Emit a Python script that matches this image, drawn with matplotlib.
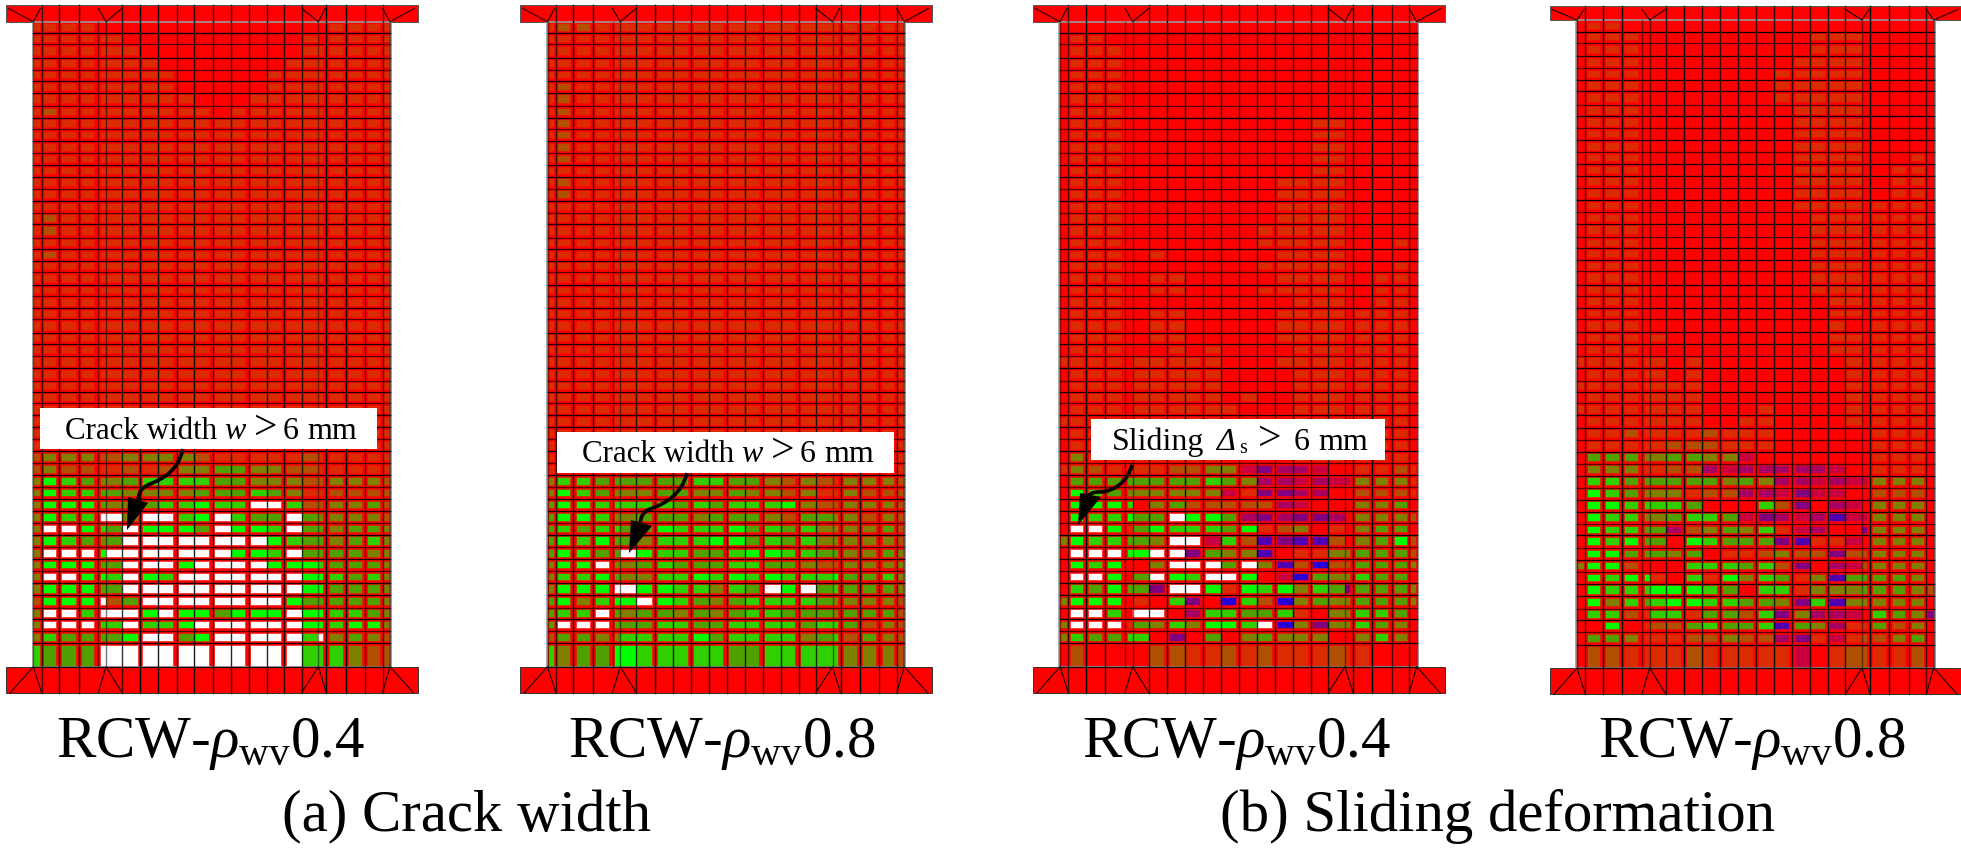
"""
Four FE wall meshes with crack width / sliding state per element.
"""

import matplotlib
matplotlib.use("Agg")
import matplotlib.pyplot as plt
from matplotlib.path import Path
from matplotlib.patches import PathPatch

plt.rcParams["font.family"] = ["Liberation Serif", "DejaVu Serif"]
plt.rcParams["mathtext.fontset"] = "custom"
plt.rcParams["mathtext.rm"] = "Liberation Serif"
plt.rcParams["mathtext.it"] = "Liberation Serif:italic"
plt.rcParams["mathtext.default"] = "regular"

# element state colours
STATE_COLORS = {
    "R": "#ff0000", "o": "#da2c00", "b": "#b05000", "y": "#808000",
    "g": "#50a000", "G": "#30d000", "L": "#00ff00", "W": "#ffffff",
    "p": "#800080", "n": "#a80060", "m": "#c80040", "v": "#5000b0",
    "u": "#2800d8",
}

ALL_O = "oooooooooooooooooooooo"
COL1B = "oboooooooooooooooooooo"

# one string per mesh row (top to bottom), one letter per column
crack_04 = [
    "ooooRRRRRRRRRRRRRRoooo", "ooooooRRRRRRRRRRoRoooo", "oooooooRRRRRRRRRoooooo",
    "ooooooooRRRRRRRooooooo", "oooooooooRRRRRoooooooo", "oooooooooRRRRRoooooooo",
    "ooooooooooRRRooooooooo", "oboooooooooRoooooooooo",
    ALL_O, ALL_O, ALL_O, ALL_O, ALL_O, ALL_O, ALL_O, ALL_O,
    COL1B, COL1B, ALL_O, COL1B, ALL_O, ALL_O, ALL_O, ALL_O, ALL_O, ALL_O,
    ALL_O, ALL_O, ALL_O, ALL_O, ALL_O, ALL_O, ALL_O, ALL_O, ALL_O, ALL_O,
    "byyybbyyyybooooobooooo", "bybboobobyyggyybbooooo", "yLGgyygGGGGggyyybbyyyb",
    "yLGGggyyyygggGgyoobbbb", "yLLLgyygGGLGGWWGbbyygb", "yLGGWWyWWGLWGggWgyyyyb",
    "yWWLGgWLLLgWLLGWggyggy", "yLGgygWWWWWWWWLGggygGy", "yWWWLWWWWWWWLLGWggggyy",
    "yLLLggWWWLWWWWLLLGgggy", "yWWLLGWLGWWWWWWWLLGgGy", "yLLLggWWWWWWWWWWLLgggy",
    "bLLLWbgWWWWWWWWLgggggy", "yWWGWWWLWLLgLLLWLLGGgy", "yWWWGGWGGLWWWWWWLLGLLy",
    "yGggggLWWgLWWWWWGWygyb", "GgggWWWWWWWWWWWWGGGybb",
]

crack_08 = [
    "obbooooooooooooooooooo", ALL_O, ALL_O, ALL_O, ALL_O, COL1B, COL1B, COL1B,
    COL1B, COL1B, COL1B, COL1B, ALL_O, COL1B, COL1B, ALL_O, ALL_O, ALL_O, ALL_O,
    ALL_O, ALL_O, ALL_O, ALL_O, ALL_O, ALL_O, ALL_O, ALL_O, ALL_O, ALL_O, ALL_O,
    ALL_O, ALL_O, ALL_O, ALL_O, ALL_O, ALL_O, ALL_O, ALL_O,
    "yGGggggggGGggybyboyyyb", "yLGgyyyggyygyybyooybbb", "gLLGGGGGgGgGGGLybbyyyb",
    "gLLGyygggygggybggyybyb", "gGgGGggLGGGLgGgGyyyygb", "gLGLggyGGGLLgGgGyyyyyb",
    "gLLggWLGGggGLLGGggyygy", "yLLWyygGgggGGggybbyyyy", "yGGLgyyGGLGLGLGGGLggGy",
    "yLLLWWLLGGyGgWLWgGgggy", "gLyGLLWLGgygGGGGgyyyyb", "gGGWgyggygygGGgggygggb",
    "gWWWgggGGggGGGGgGGgbyb", "bggyyGGGGLgGGGGygGbgyb", "GyggLLGGGGGggGGGGGyyyb",
]

sliding_04 = [
    "RRRRRRRRRRRRRRRRRRRRRR", "RooRRRRRRRRRRRRRRRRRRR", "RoooRRRRRRRRRRRRRRRRRR",
    "RoooRRRRRRRRRRRRRRRRRR", "RoooRRRRRRRRRRRRRRRRRR", "RoooRRRRRRRRRRRRRRRRRR",
    "RoooRRRRRRRRRRRRRRRRRR", "RoooRRRRRRRRRRRRRRRRRR", "RoooRRRRRRRRRRRooRRRRR",
    "RoooRRRRRRRRRRRooRRRRR", "RoooRRRRRRRRRRRooRRRRR", "RoooRRRRRRRRRRRooRRRRR",
    "RoooRRRRRRRRRRRooRRRRR", "RoooRRRRRRRRRooooRRRRR", "RoooRRRRRRRRRooooRRRRR",
    "RoooRRRRRRRRRooooRRRRR", "RoooRRRRRRRRRooooRRRRR", "RoooRRRRRRRRoooooRRRRR",
    "RoooRRRRRRRRoooooRRRoR", "RoooRRoRRRRRRooooRRRRR", "RoooRRRRRRRRoooooRRRoR",
    "RoooRRooRRRRRooooRRooR", "RoooRRooRRRRoooooRRooR", "RoooRRRRRRRRRRoooRRooR",
    "RoooRRooRRRRRooooRoooR", "RoooRRooRRRRRooooRoooR", "RoooRRooRRRRRooooRoooR",
    "RoooRRRoRoRRRRoooRoooR", "ooooRoooooRRRooooRoooR", "RoooRoooooRRRRoooRoooR",
    "RoooRoooooRRRRoooRoooR", "RoooRoooooRoRRoooRoooR", "RoooRooooooRRRoooRoooR",
    "ooooRoooooRRRRoooRoooR", "RoooRoooooRRRRoooRoooR", "RoooRoooooRRRRoooRoooR",
    "RyooRoooooRRRRoooRoooR",
    "oyboooobbyympnnmRRoobo", "RggggggggGgynnmnmmyyyo", "RLGgyyyyyymoppnnRRbbbo",
    "RLLLGRygbbbbbnmRRRyygR", "RLGGLggWLLgnpnppnRyyyb", "RWWLogLGGGgLobyRoRyggR",
    "yLGGggyWWmGbvpvvbRygLb", "RWWWLLWWpgyyvRooyygggb", "RLGLRRyWWWgWyvbubbgggy",
    "RWWLRgWLGWWLRmugyyGggR", "RGgLggpWWLoLGLyGgpgggy", "yLLLRoRGpRuGbuygyygggy",
    "RWWGRWWRnGGggGoRyyGGgR", "yWWWogyGyLLGWuypyyGgyR", "yGggGGRpRgRygyyyRRyGyR",
    "RbRRRRbboobobooobooRRR",
]

sliding_08 = [
    "RooRRRRRRRRRRRRRRRRRRR", "RoooRRRRRRRRRRoooRRRRR", "RoooRRRRRRRRRRoooRRRRR",
    "RoooRRRRRRRRRooooRRRRR", "RoooRRRRRRRRoooooRRRRR", "RoooRRRRRRRRoooooRRRRR",
    "RoooRRRRRRRRoooooRRRRR", "RoooRRRRRRRRRooooRRRRR", "RoooRRRRRRRRRooooRRRRR",
    "RoooRRRRRRRRRooooRRRRR", "RoooRRRRRRRRRooooRRRRR", "RoooRRRRRRRRRooooRRRoR",
    "RoooRRRRRRRRRooooRRooR", "RoooRRRRRRRRRooooRRooR", "RoooRRRRRRRRRooooRRooR",
    "RoooRRRRRRRRRooooRoooR", "RoooRRRRRRRRRRoooRoooR", "RoooRRRRRRRRRRoooRoooR",
    "RoooRRRRRRRRRRoooRoooR", "RoooRRRRRRRRRRoooRoooR", "RoooRRRRRRRRRRoooRoooR",
    "RoooRRRRRRRRRRoooRoooR", "RoooRRRRRRRRRRoooRoooR", "RoooRRRRRRRRRRRooRoooR",
    "RoooRRRRRRRRRRRooRoooR", "RoooRRRRRRRRRRRoRRoooR", "RoooRoRRRRRRRRRooRoooR",
    "RoooRRRRRRRRRRRooRoooR", "ooooooRoRRRRRRRRoRoooR", "RoooooRoRRRRRRRRoRoooR",
    "ooooooooRRRRRRRRoRoooR", "RoooooooRRRRRRRRoRoooR", "ooooooooRRRoRRRRoRoooR",
    "RoooooooRRooRRRRoRoooR",
    "RoobooooboooRRRRRRoooR", "RooooobbboooRRRRRRoooR", "RgggyyggyymRRRRRRRoooR",
    "RyyyoobbnmnnnnnmRRoooR", "RGGggggggygynnmnmmyyyR", "RLGgyyyobbnnmpmmRRbbbR",
    "RLLGGGGgRRRGbpRnmRyyyR", "RLGGyygGGgmpnmnvmmyyyR", "RLGGggnbygyGomnRRpyyyR",
    "RLGLggRLGgggpvoomRyyyR", "RLLgggygRoobybbpbbyyyR", "yLLbRRRGGGgGbpRnmbyyyR",
    "RLGLLoRGoLyGgoyvggggyR", "RLGGGLLLGgRGGoyyygggyb", "RLyGgGLLGGggypGvyyyyyR",
    "RGGboGGoggbGpynnmRGgyp", "RRLRobbgGggGvgynoogbyR", "RggyooobbybbnpomobbygR",
    "RbbooooboooomRobboobR"[:10] + "ooomRobb" + "oobR",
]

# mesh lines, relative to the web's top left corner
col_lines = [0, 8.3, 25.7, 45.3, 65, 72.7, 88.7, 107, 125, 143.3, 161, 179.3,
             197.3, 215.3, 233.3, 251, 268.3, 285, 293, 312.3, 331.7, 349.3, 356.7]
col_alpha = [0.4, 0.7, 1, 0.95, 0.5, 0.55, 0.8, 1, 0.9, 0.8, 0.9, 0.8,
             0.85, 0.8, 0.85, 0.85, 0.8, 0.45, 1, 1, 0.7, 0.7, 0.4]
row_lines = [0, 11.7, 22.7, 36, 48, 59.3, 71, 84.3, 96, 107.7, 119.3, 131.7, 143.3,
             155, 167, 179.3, 191, 202.6, 216, 227.3, 239, 250.3, 263.3, 274.3,
             286.6, 297.6, 311, 322.3, 334, 346.6, 359, 370, 381.6, 393.6, 405.6,
             417.6, 429.6, 441.6, 453.6, 465.6, 477.3, 489.3, 501.6, 513, 525.6,
             537.6, 549.3, 561, 573.6, 586, 597.6, 609.3, 621.6, 645]
row_alpha = [1, 0.65, 0.9, 0.65, 0.9, 0.9, 0.65]

# coloured part of each column (the rest of the element stays red)
patch_left = [1, 10.7, 29, 48.3, 67.7, 72.7, 88.7, 110, 125, 146, 161, 181.7,
              197.3, 217.7, 233.3, 253.3, 268.3, 285, 296.3, 315.7, 335, 350.7]
patch_right = [6.7, 22.7, 42.3, 61, 72.7, 88.7, 104.3, 125, 140, 161, 175.7, 197.3,
               211.7, 233.3, 247.7, 268.3, 285, 290, 309.3, 328.3, 346.7, 355.7]

# column lines that stop at the flanges
web_only_lines = [0, 4, 5, 17, 22]

# corner triangles in the flanges: apex, base left, base right
top_triangles = [((0, 0), (-25, -13.3), (7, -13.3)),
                 ((72.7, 0), (65, -13.3), (88.7, -13.3)),
                 ((285, 0), (268.3, -13.3), (292, -13.3)),
                 ((356.7, 0), (349.3, -13.3), (381, -13.3))]
bottom_triangles = [((0, 645), (-23, 671), (8.3, 671)),
                    ((72.7, 645), (65, 671), (88.7, 671)),
                    ((285, 645), (268.3, 671), (293, 671)),
                    ((356.7, 645), (349.3, 671), (380, 671))]


def draw_wall(ax, left, top, cells, yscale=1.0, flange=16.7):
    """One wall: flanges, web, coloured elements, mesh lines."""
    for row in cells:
        assert len(row) == 22, row
    assert len(cells) == 53

    def yy(v):
        return top + v * yscale

    web_h = yy(645) - top
    # flanges and web
    ax.bar(left - 27.3, flange, 412, top - flange, align="edge", color="#ff0000",
           edgecolor="#555555", linewidth=0.7, zorder=1)
    ax.bar(left - 27.3, 26.3, 412, yy(645), align="edge", color="#ff0000",
           edgecolor="#333333", linewidth=0.7, zorder=1)
    ax.bar(left - 0.8, web_h, 358.3, top, align="edge", color="#ff0000",
           edgecolor="#999999", linewidth=1.2, zorder=1)

    lefts, bottoms, widths, heights, colors = [], [], [], [], []
    for i, row in enumerate(cells):
        y0 = yy(row_lines[i]) + 2.7
        y1 = yy(row_lines[i + 1]) - (1 if i == 52 else 2.7)
        for j, state in enumerate(row):
            if state == "R":
                continue
            lefts.append(left + patch_left[j])
            widths.append(patch_right[j] - patch_left[j])
            bottoms.append(y0)
            heights.append(y1 - y0)
            colors.append(STATE_COLORS[state])

    # soft rim first, the scan is a bit blurred
    ax.bar([x - 1 for x in lefts], [h + 2 for h in heights], [w + 2 for w in widths],
           [y - 1 for y in bottoms], align="edge", color=colors, alpha=0.25,
           linewidth=0, zorder=2)
    ax.bar(lefts, heights, widths, bottoms, align="edge", color=colors,
           linewidth=0, zorder=3)

    # mesh
    for i, y in enumerate(row_lines[1:-1]):
        ax.plot([left, left + col_lines[-1]], [yy(y), yy(y)], color="black",
                alpha=row_alpha[i % len(row_alpha)], lw=0.95, zorder=4)
    ax.plot([left, left + col_lines[-1]], [yy(645), yy(645)], color="black",
            alpha=0.9, lw=0.95, zorder=4)
    for j, x in enumerate(col_lines):
        if j in web_only_lines:
            y0, y1 = top, yy(645)
        else:
            y0, y1 = top - flange, yy(645) + 26.3
        ax.plot([left + x, left + x], [y0, y1], color="black",
                alpha=col_alpha[j], lw=1.0, zorder=4)

    for apex, a, b in top_triangles:
        drop = flange - 3.4
        ax.plot([left + a[0], left + apex[0], left + b[0]],
                [top - drop, top, top - drop],
                color="black", alpha=0.85, lw=0.85, zorder=4)
    for apex, a, b in bottom_triangles:
        ax.plot([left + a[0], left + apex[0], left + b[0]],
                [yy(645) + 26, yy(645), yy(645) + 26],
                color="black", alpha=0.85, lw=0.85, zorder=4)


def draw_callout(ax, box, pieces, baseline, stem, head):
    """White label box with a curved black arrow under it."""
    x0, y0, x1, y1 = box
    ax.bar(x0, y1 - y0, x1 - x0, y0, align="edge", color="white", linewidth=0, zorder=5)
    for x, label, size, style, dy in pieces:
        ax.text(x, baseline + dy, label, fontsize=size, style=style, ha="left",
                va="baseline", color="black", zorder=7)
    codes = [Path.MOVETO, Path.CURVE4, Path.CURVE4, Path.CURVE4,
             Path.CURVE4, Path.CURVE4, Path.CURVE4]
    ax.add_patch(PathPatch(Path(stem, codes), facecolor="none", edgecolor="black",
                           lw=2.6, zorder=6))
    ax.fill([p[0] for p in head], [p[1] for p in head], color="black", lw=0, zorder=6)


def crack_label(x):
    return [(x, "Crack width", 22.3, "normal", 0), (x + 159, "w", 23, "italic", 0),
            (x + 189, ">", 30, "normal", 0), (x + 218, "6", 23, "normal", 0),
            (x + 242, "mm", 23, "normal", 0)]


fig = plt.figure(figsize=(19.61, 8.49), dpi=100)
ax = fig.add_axes([0, 0, 1, 1])
ax.set_xlim(0, 1961)
ax.set_ylim(849, 0)
ax.axis("off")

draw_wall(ax, 33.3, 21.7, crack_04)
draw_wall(ax, 547.5, 21.7, crack_08)
draw_wall(ax, 1060, 21.7, sliding_04)
draw_wall(ax, 1577, 20, sliding_08, yscale=1.0047, flange=14)

draw_callout(ax, (40, 408, 377, 449), crack_label(65), 439,
             [(183, 449), (178, 470), (165, 478), (150, 484),
              (141, 488), (139, 492), (138, 500)],
             [(127, 530), (128, 497), (148, 503)])
draw_callout(ax, (557, 432, 894, 473), crack_label(582), 462,
             [(687, 473), (682, 494), (665, 504), (650, 509),
              (643, 512), (641, 516), (640, 524)],
             [(629, 553), (631, 520), (652, 526)])
draw_callout(ax, (1091, 419, 1385, 460),
             [(1112, "Sliding", 23, "normal", 0), (1216, "\u0394", 23, "italic", 0),
              (1239, "s", 14.5, "normal", 3), (1258, ">", 30, "normal", 0),
              (1294, "6", 23, "normal", 0), (1318, "mm", 23, "normal", 0)], 450,
             [(1132, 465), (1127, 482), (1115, 491), (1100, 492),
              (1092, 492), (1088, 494), (1086, 500)],
             [(1078, 525), (1080, 493), (1101, 497)])

# captions
for cx, label in [(210, r"RCW-$\mathit{\rho}_{wv}$0.4"), (722, r"RCW-$\mathit{\rho}_{wv}$0.8"),
                  (1236, r"RCW-$\mathit{\rho}_{wv}$0.4"), (1752, r"RCW-$\mathit{\rho}_{wv}$0.8")]:
    ax.text(cx, 757, label, fontsize=42.5, ha="center", va="baseline", color="black")
ax.text(467, 831, "(a) Crack width", fontsize=42.3, ha="center", va="baseline", color="black")
ax.text(1497, 831, "(b) Sliding deformation", fontsize=42.3, ha="center", va="baseline", color="black")

fig.savefig("out.png", dpi=100)
plt.close(fig)
